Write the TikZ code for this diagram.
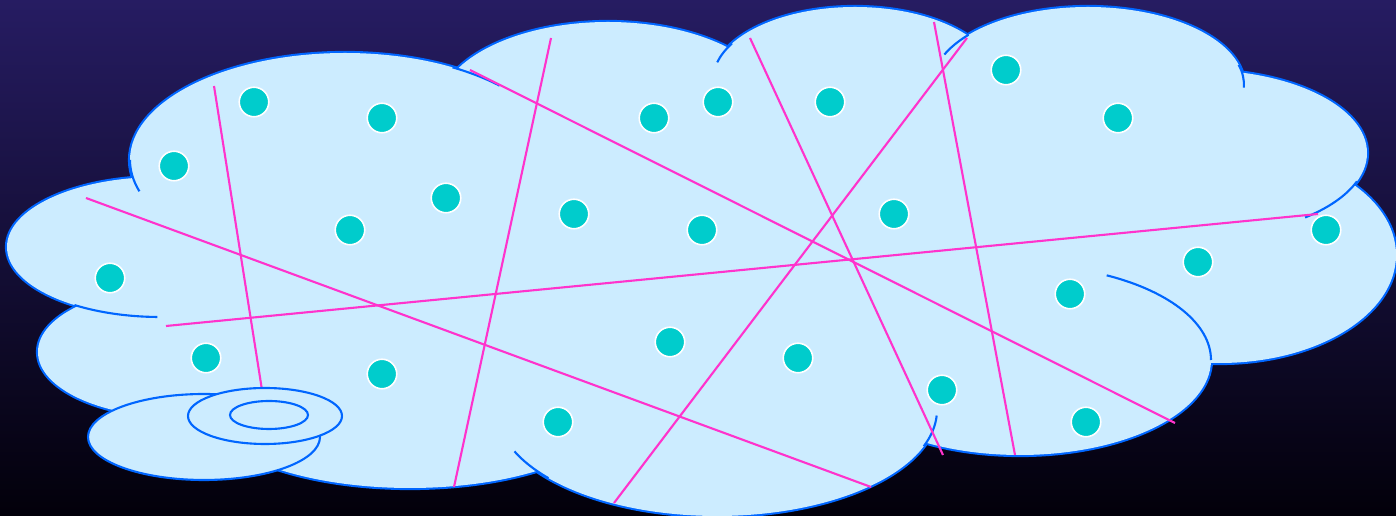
\documentclass[tikz,border=0pt]{standalone}
\usepackage{xcolor}
\usepackage{tikz}
\usetikzlibrary{shapes,positioning,calc}

\definecolor{skytop}{RGB}{38,28,98}
\definecolor{skybot}{RGB}{2,0,10}
\definecolor{cloudfill}{RGB}{204,236,255}
\definecolor{cloudline}{RGB}{0,102,255}
\definecolor{hostteal}{RGB}{0,204,204}
\definecolor{cutpink}{RGB}{255,51,204}

\newcommand{\cloudlobes}{345/160/215/107, 160/247/153/70, 175/352/137/65, 410/400/214/88,
  717/410/220/106, 1020/360/191/95, 1220/255/176/108, 1200/153/167/83,
  1088/85/156/78, 855/80/142/73, 608/110/170/88}

\begin{document}
\begin{tikzpicture}[x=0.01cm,y=-0.01cm,
  lobeedge/.style={draw=cloudline,line width=1.2pt},
  lobefill/.style={fill=cloudfill},
  crease/.style={cloudline,line width=0.6pt},
  cut/.style={cutpink,line width=0.6pt},
  host/.style={circle,fill=hostteal,draw=white,line width=0.45pt,minimum size=0.295cm,inner sep=0pt}]
\useasboundingbox (0,0) rectangle (1396,516);
\fill[top color=skytop,bottom color=skybot] (0,0) rectangle (1396,516);

\foreach \cx/\cy/\rx/\ry in \cloudlobes {
    \draw[lobeedge] (\cx,\cy) ellipse [x radius=\rx, y radius=\ry];
}
\foreach \cx/\cy/\rx/\ry in \cloudlobes {
    \fill[lobefill] (\cx,\cy) ellipse [x radius=\rx, y radius=\ry];
}
\fill[lobefill] (720,260) ellipse [x radius=400, y radius=130];
\fill[lobefill] (320,290) ellipse [x radius=120, y radius=50];
\fill[lobefill] (990,160) ellipse [x radius=120, y radius=50];

\foreach \cx/\cy/\rx/\ry/\a/\b in {345/160/215/107/180/163, 345/160/215/107/-60/-44,
    160/247/153/70/124/91, 717/410/220/106/157/140, 717/410/220/106/3/20,
    1020/360/191/95/-63/0, 1200/153/167/83/20/51, 1088/85/156/78/-15/2,
    1088/85/156/78/220/203, 855/80/142/73/210/194} {
    \draw[crease] (\cx,\cy) ++({\rx*cos(\a)},{\ry*sin(\a)}) arc [start angle=\a, end angle=\b, x radius=\rx, y radius=\ry];
}

\foreach \i/\xa/\ya/\xb/\yb in {1/214/86/262/390, 2/86/198/871/487, 3/166/326/1318/214,
    4/470/70/1175/423, 5/551/38/454/487, 6/750/38/943/455, 7/967/38/614/503, 8/934/22/1015/455} {
    \coordinate (C\i a) at (\xa,\ya);
    \coordinate (C\i b) at (\xb,\yb);
    \draw[cut] (C\i a) -- (C\i b);
}

\draw[cloudline,line width=0.6pt,fill=cloudfill] (204,437) ellipse [x radius=116, y radius=43];
\draw[cloudline,line width=0.6pt,fill=cloudfill] (265,416) ellipse [x radius=77, y radius=28];
\draw[cloudline,line width=0.6pt] (269,415) ellipse [x radius=39, y radius=14];

\foreach \x/\y [count=\n] in {254/102, 382/118, 174/166, 446/198, 350/230, 110/278, 206/358,
    382/374, 558/422, 654/118, 718/102, 830/102, 574/214, 702/230, 894/214, 670/342,
    798/358, 942/390, 1006/70, 1118/118, 1326/230, 1198/262, 1070/294, 1086/422} {
    \node[host] (H\n) at (\x,\y) {};
}
\end{tikzpicture}
\end{document}
